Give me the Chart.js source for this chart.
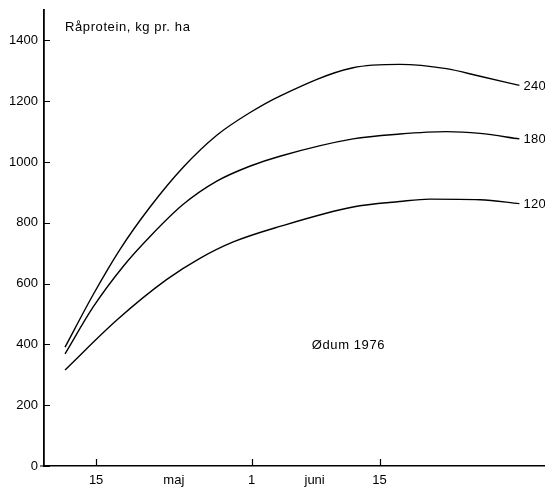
<!DOCTYPE html>
<html>
<head>
<meta charset="utf-8">
<script src="https://cdn.jsdelivr.net/npm/chart.js@4/dist/chart.umd.min.js"></script>
<style>
  html, body { margin: 0; padding: 0; background: #fff; }
  canvas { display: block; }
</style>
</head>
<body>
<canvas id="chart" width="545" height="487"></canvas>
<script>
// x = day count from 1 May (15 = 15. maj, 32 = 1. juni, 46 = 15. juni)
const days240 = [11.6, 14.7, 17.6, 20.9, 24.5, 28.2, 31.8, 35.1, 43.1, 48.2, 53.3, 57.0, 61.3];
const vals240 = [391, 565, 712, 852, 982, 1088, 1162, 1217, 1310, 1321, 1307, 1282, 1252];

const days180 = [11.6, 14.7, 18.0, 20.9, 24.5, 28.2, 31.8, 35.1, 43.1, 48.2, 53.3, 57.0, 61.3];
const vals180 = [369, 524, 658, 755, 860, 937, 986, 1019, 1076, 1092, 1100, 1094, 1076];

const days120 = [11.6, 17.3, 22.7, 26.35, 30.0, 35.1, 43.1, 48.2, 51.5, 57.0, 61.3];
const vals120 = [316, 481, 613, 683, 737, 788, 852, 870, 878, 876, 863];

const seriesNames = ['240', '180', '120'];

const xTickDays = [15, 23.5, 32, 38.9, 46];
const xTickLabels = ['15', 'maj', '1', 'juni', '15'];
const xMarkDays = [15, 32, 46];
const yTicks = [0, 200, 400, 600, 800, 1000, 1200, 1400];

const font = '"Liberation Sans", Arial, Helvetica, sans-serif';

function toPoints(days, vals) {
  return days.map((d, i) => ({ x: d, y: vals[i] }));
}

function lineSet(label, days, vals) {
  return {
    label: label,
    data: toPoints(days, vals),
    borderColor: '#000',
    borderWidth: 1.4,
    pointRadius: 0,
    fill: false,
    cubicInterpolationMode: 'monotone'
  };
}

// inward tick marks, the labels inside the plot and the series names
const decorations = {
  id: 'decorations',
  afterDraw(chart) {
    const ctx = chart.ctx;
    const area = chart.chartArea;
    const x = chart.scales.x;
    const y = chart.scales.y;
    ctx.save();
    ctx.strokeStyle = '#000';
    ctx.lineWidth = 1.2;
    ctx.beginPath();
    for (const v of yTicks) {
      const py = Math.round(y.getPixelForValue(v)) + 0.5;
      ctx.moveTo(area.left, py);
      ctx.lineTo(area.left + 6, py);
    }
    for (const d of xMarkDays) {
      const px = Math.round(x.getPixelForValue(d)) + 0.5;
      ctx.moveTo(px, area.bottom);
      ctx.lineTo(px, area.bottom - 7);
    }
    // bottom axis runs a little past the left axis
    ctx.moveTo(area.left - 4, area.bottom);
    ctx.lineTo(area.left, area.bottom);
    ctx.stroke();

    ctx.fillStyle = '#000';
    ctx.textBaseline = 'middle';
    ctx.letterSpacing = '0.6px';
    ctx.font = '13px ' + font;
    ctx.textAlign = 'left';
    ctx.fillText('Råprotein, kg pr. ha', area.left + 21, 27);

    ctx.textAlign = 'center';
    ctx.fillText('Ødum 1976', x.getPixelForValue(42.6), y.getPixelForValue(395));

    ctx.letterSpacing = '0.3px';
    ctx.textAlign = 'left';
    chart.data.datasets.forEach((ds, i) => {
      const pts = chart.getDatasetMeta(i).data;
      const last = pts[pts.length - 1];
      ctx.fillText(seriesNames[i], last.x + 4, last.y + 1);
    });
    ctx.restore();
  }
};

new Chart(document.getElementById('chart'), {
  type: 'line',
  data: {
    datasets: [
      lineSet('240', days240, vals240),
      lineSet('180', days180, vals180),
      lineSet('120', days120, vals120)
    ]
  },
  options: {
    responsive: false,
    animation: false,
    layout: { padding: { top: 10, right: 0, left: 0, bottom: 0 } },
    plugins: {
      legend: { display: false },
      tooltip: { enabled: false }
    },
    scales: {
      x: {
        type: 'linear',
        min: 9.3,
        max: 64.1,
        afterFit: (s) => { s.height = 21; s.paddingLeft = 0; s.paddingRight = 0; },
        afterBuildTicks: (s) => { s.ticks = xTickDays.map(v => ({ value: v })); },
        grid: { display: false, drawTicks: false },
        border: { display: true, color: '#000', width: 1.6 },
        ticks: {
          autoSkip: false,
          maxRotation: 0,
          padding: 7,
          color: '#000',
          font: { family: font, size: 13 },
          callback: (v, i) => xTickLabels[i]
        }
      },
      y: {
        min: 0,
        max: 1500,
        afterFit: (s) => { s.width = 44; s.paddingTop = 0; s.paddingBottom = 0; },
        afterBuildTicks: (s) => { s.ticks = yTicks.map(v => ({ value: v })); },
        grid: { display: false, drawTicks: false },
        border: { display: true, color: '#000', width: 1.8 },
        ticks: {
          padding: 6,
          color: '#000',
          font: { family: font, size: 13 },
          callback: (v) => String(v)
        }
      }
    }
  },
  plugins: [decorations]
});
</script>
</body>
</html>
